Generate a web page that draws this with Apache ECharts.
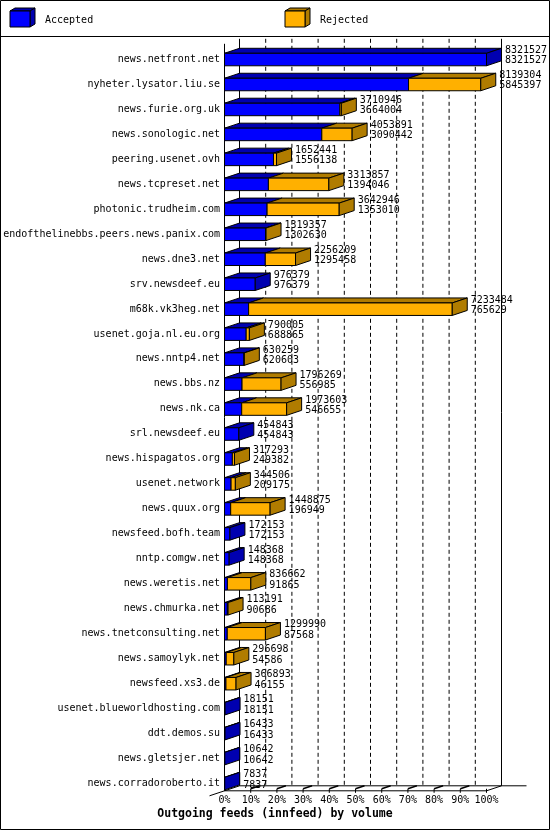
<!DOCTYPE html>
<html><head><meta charset="utf-8">
<script src="https://cdn.jsdelivr.net/npm/echarts@6/dist/echarts.min.js"></script>
<style>html,body{margin:0;padding:0;background:#fff}#c{width:550px;height:830px}</style>
</head><body><div id="c"></div>
<script>
const categories = [
  'news.netfront.net','nyheter.lysator.liu.se','news.furie.org.uk','news.sonologic.net',
  'peering.usenet.ovh','news.tcpreset.net','photonic.trudheim.com',
  'endofthelinebbs.peers.news.panix.com','news.dne3.net','srv.newsdeef.eu','m68k.vk3heg.net',
  'usenet.goja.nl.eu.org','news.nntp4.net','news.bbs.nz','news.nk.ca','srl.newsdeef.eu',
  'news.hispagatos.org','usenet.network','news.quux.org','newsfeed.bofh.team','nntp.comgw.net',
  'news.weretis.net','news.chmurka.net','news.tnetconsulting.net','news.samoylyk.net',
  'newsfeed.xs3.de','usenet.blueworldhosting.com','ddt.demos.su','news.gletsjer.net',
  'news.corradoroberto.it'
];
const totalValues = [
  8321527, 8139304, 3710946, 4053891, 1652441, 3313857, 3642946, 1319357, 2256209, 976379,
  7233484, 790005, 630259, 1796269, 1973603, 454843, 317293, 344506, 1448875, 172153,
  148368, 836662, 113191, 1299990, 296698, 366893, 18151, 16433, 10642, 7837
];
const acceptedValues = [
  8321527, 5845397, 3664004, 3090442, 1556138, 1394046, 1353010, 1302630, 1295458, 976379,
  765629, 688865, 620603, 556985, 546655, 454843, 249382, 209175, 196949, 172153,
  148368, 91865, 90686, 87568, 54586, 46155, 18151, 16433, 10642, 7837
];
const xTickValues = [0, 10, 20, 30, 40, 50, 60, 70, 80, 90, 100];
const seriesNames = ['Accepted', 'Rejected'];
const titleText = 'Outgoing feeds (innfeed) by volume';

const COL = {
  accFront: '#0000ff', accDark: '#0000b0',
  rejFront: '#ffb000', rejDark: '#b07c00'
};
const FONT = 'DejaVu Sans Mono';
const DX = 15, DY = 5;

const maxTotal = Math.max(...totalValues);
const barData = categories.map((c, i) => [
  acceptedValues[i] / maxTotal * 100,
  totalValues[i] / maxTotal * 100,
  i, totalValues[i], acceptedValues[i]
]);

function poly(points, fill) {
  return { type: 'polygon', shape: { points }, style: { fill, stroke: '#000', lineWidth: 1 } };
}

function renderBar(params, api) {
  const a = api.value(0), t = api.value(1), idx = api.value(2);
  const tot = api.value(3), acc = api.value(4);
  const p0 = api.coord([0, idx]);
  const pa = api.coord([a, idx]);
  const pt = api.coord([t, idx]);
  const yc = p0[1];
  const yT = yc - 6, yB = yc + 6.5;
  const x0 = p0[0], xa = pa[0], xt = pt[0];
  const ch = [];
  // top faces
  ch.push(poly([[x0, yT], [x0 + DX, yT - DY], [xa + DX, yT - DY], [xa, yT]], COL.accDark));
  if (xt > xa) ch.push(poly([[xa, yT], [xa + DX, yT - DY], [xt + DX, yT - DY], [xt, yT]], COL.rejDark));
  // front faces
  ch.push({ type: 'rect', shape: { x: x0, y: yT, width: xa - x0, height: yB - yT },
    style: { fill: COL.accFront, stroke: '#000', lineWidth: 1 } });
  if (xt > xa) ch.push({ type: 'rect', shape: { x: xa, y: yT, width: xt - xa, height: yB - yT },
    style: { fill: COL.rejFront, stroke: '#000', lineWidth: 1 } });
  // side face
  ch.push(poly([[xt, yT], [xt + DX, yT - DY], [xt + DX, yB - DY], [xt, yB]], xt > xa ? COL.rejDark : COL.accDark));
  // labels
  ch.push({ type: 'text', z2: 10, style: { text: String(tot), x: xt + DX + 3.5, y: yc - 8.7,
    fill: '#000', fontSize: 10, fontFamily: FONT, verticalAlign: 'middle', align: 'left' } });
  ch.push({ type: 'text', z2: 10, style: { text: String(acc), x: xt + DX + 3.5, y: yc + 1.6,
    fill: '#000', fontSize: 10, fontFamily: FONT, verticalAlign: 'middle', align: 'left' } });
  return { type: 'group', children: ch };
}

function line(x1, y1, x2, y2, dash) {
  return { type: 'line', shape: { x1, y1, x2, y2 },
    style: { stroke: '#000', lineWidth: 1, lineDash: dash || null } };
}

function renderFrame(params, api) {
  const cs = params.coordSys;
  const top = cs.y - 8;
  const frontY = cs.y + cs.height - 5;
  const backY = frontY - DY;
  const ch = [];
  const xs = xTickValues.map(v => api.coord([v, 0])[0]);
  const x0 = xs[0], x100 = xs[xs.length - 1];
  // back wall verticals
  ch.push(line(x0 + DX, top, x0 + DX, backY));
  ch.push(line(x100 + DX, top, x100 + DX, backY));
  for (let k = 1; k < xs.length - 1; k++) {
    ch.push(line(xs[k] + DX, top, xs[k] + DX, backY, [4, 3]));
  }
  // front-left vertical
  ch.push(line(x0, top + 5, x0, frontY));
  // floor
  ch.push(line(x0 + DX, backY, x100 + DX + 25, backY));
  ch.push(line(x0, frontY, x100, frontY));
  ch.push(line(x100, frontY, x100 + DX, backY));
  ch.push(line(x0 - DX, frontY + DY, x0 + DX, backY));
  for (let k = 1; k < xs.length; k++) {
    ch.push(line(xs[k], frontY - 2, xs[k], frontY + 2));
    if (k < xs.length - 1) ch.push({ type: 'line', shape: { x1: xs[k], y1: frontY - 2, x2: xs[k] + 9, y2: backY },
      style: { stroke: '#000', lineWidth: 1.5 } });
  }
  return { type: 'group', children: ch };
}

function cube(x, label) {
  const [f, d] = label === 'Accepted' ? [COL.accFront, COL.accDark] : [COL.rejFront, COL.rejDark];
  return [
    { type: 'polygon', shape: { points: [[x, 11], [x + 5, 8], [x + 25, 8], [x + 20, 11]] }, style: { fill: d, stroke: '#000' } },
    { type: 'polygon', shape: { points: [[x + 20, 11], [x + 25, 8], [x + 25, 24], [x + 20, 27]] }, style: { fill: d, stroke: '#000' } },
    { type: 'rect', shape: { x: x, y: 11, width: 20, height: 16 }, style: { fill: f, stroke: '#000' } },
    { type: 'text', style: { text: label, x: x + 35, y: 20, fill: '#000', fontSize: 10, fontFamily: FONT, verticalAlign: 'middle' } }
  ];
}

const chart = echarts.init(document.getElementById('c'));
chart.setOption({
  animation: false,
  backgroundColor: '#fff',
  title: {
    text: titleText, left: 'center', top: 808, padding: 0,
    textStyle: { fontFamily: FONT, fontSize: 11.5, fontWeight: 'bold', color: '#000' }
  },
  grid: { left: 224.5, right: 63.5, top: 46.8, height: 749 },
  xAxis: {
    type: 'value', min: 0, max: 100, interval: 10,
    axisLine: { show: false }, axisTick: { show: false }, splitLine: { show: false },
    axisLabel: { formatter: '{value}%', margin: 0, color: '#000', fontFamily: FONT, fontSize: 10 }
  },
  yAxis: {
    type: 'category', inverse: true, data: categories,
    axisLine: { show: false }, axisTick: { show: false }, splitLine: { show: false },
    axisLabel: { margin: 4.5, color: '#000', fontFamily: FONT, fontSize: 10, interval: 0 }
  },
  graphic: [
    { type: 'rect', shape: { x: 0.5, y: 0.5, width: 549, height: 829 }, style: { fill: 'none', stroke: '#000', lineWidth: 1 }, silent: true },
    { type: 'line', shape: { x1: 0, y1: 36.5, x2: 550, y2: 36.5 }, style: { stroke: '#000', lineWidth: 1 } },
    ...cube(10, seriesNames[0]),
    ...cube(285, seriesNames[1])
  ],
  series: [
    { type: 'custom', name: 'frame', z: 1, data: [[0, 0, 0]], renderItem: renderFrame, silent: true },
    { type: 'custom', name: 'feeds', z: 2, data: barData, encode: { x: [0, 1], y: 2 }, renderItem: renderBar, clip: false }
  ]
});
</script>
</body></html>
